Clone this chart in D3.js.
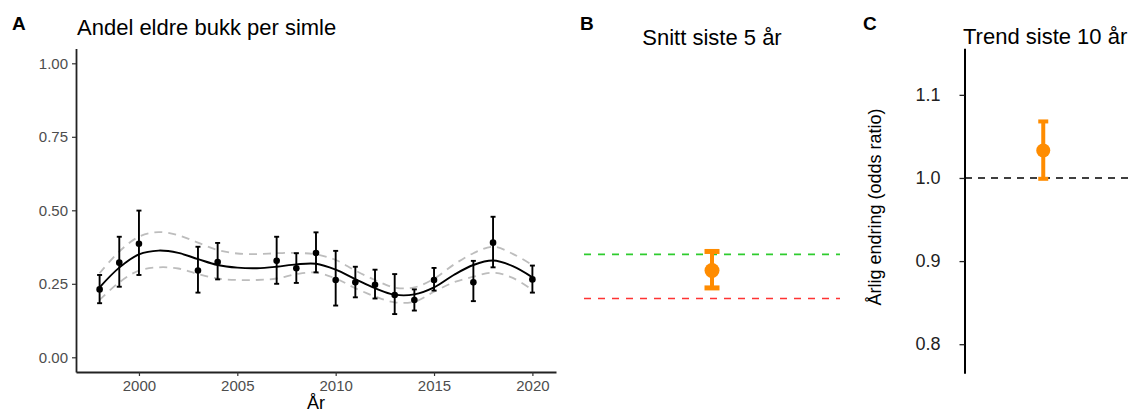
<!DOCTYPE html>
<html><head><meta charset="utf-8">
<script src="https://cdn.jsdelivr.net/npm/d3@7"></script>
<style>
html,body{margin:0;padding:0;background:#fff;}
svg{display:block;font-family:"Liberation Sans",Arial,Helvetica,sans-serif;}
</style></head>
<body><svg id="c" width="1129" height="414"></svg>
<script>
// ---- Panel A data ----
const years = [1998,1999,2000,2003,2004,2007,2008,2009,2010,2011,2012,2013,2014,2015,2017,2018,2020];
const est   = [0.231,0.322,0.386,0.295,0.324,0.328,0.303,0.355,0.263,0.255,0.247,0.212,0.195,0.263,0.255,0.390,0.265];
const lo    = [0.184,0.240,0.280,0.220,0.265,0.250,0.253,0.289,0.176,0.204,0.200,0.147,0.159,0.227,0.191,0.306,0.220];
const hi    = [0.280,0.410,0.499,0.376,0.389,0.410,0.354,0.425,0.362,0.308,0.298,0.283,0.231,0.304,0.328,0.478,0.312];
const fitYears = [1998,1999,2000,2001,2002,2003,2004,2005,2006,2007,2008,2009,2010,2011,2012,2013,2014,2015,2016,2017,2018,2019,2020];
const fit      = [0.238,0.305,0.350,0.363,0.355,0.334,0.314,0.305,0.303,0.308,0.316,0.318,0.298,0.266,0.235,0.213,0.214,0.238,0.280,0.314,0.329,0.310,0.272];
const fitHi    = [0.286,0.360,0.410,0.426,0.415,0.390,0.365,0.353,0.351,0.354,0.355,0.350,0.331,0.295,0.263,0.237,0.238,0.267,0.315,0.354,0.376,0.352,0.314];
const fitLo    = [0.195,0.255,0.295,0.306,0.302,0.283,0.268,0.263,0.263,0.268,0.283,0.288,0.268,0.235,0.207,0.187,0.189,0.223,0.255,0.274,0.288,0.270,0.229];
const yTicksA = [0, 0.25, 0.5, 0.75, 1.0];
const xTicksA = [2000, 2005, 2010, 2015, 2020];

// ---- Panel B data ----
const meanB = 0.295, loB = 0.236, hiB = 0.360;
const goodThreshold = 0.35, badThreshold = 0.20;

// ---- Panel C data ----
const trendC = 1.033, loC = 0.999, hiC = 1.068;
const refC = 1.0;
const yTicksC = [0.8, 0.9, 1.0, 1.1];

const svg = d3.select("#c");

// ================= Panel A =================
const xA = d3.scaleLinear().domain([1996.8, 2021.2]).range([76, 556]);
const yA = d3.scaleLinear().domain([-0.05, 1.05]).range([372, 48.6]);

const gA = svg.append("g");
const axL = gA.append("g").attr("transform","translate(76,0)")
  .call(d3.axisLeft(yA).tickValues(yTicksA).tickFormat(d3.format(".2f")).tickSize(4).tickSizeOuter(0).tickPadding(4));
const axB = gA.append("g").attr("transform","translate(0,372)")
  .call(d3.axisBottom(xA).tickValues(xTicksA).tickFormat(d3.format("d")).tickSize(4).tickSizeOuter(0).tickPadding(4));
[axL, axB].forEach(a=>{
  a.select(".domain").attr("stroke","#222").attr("stroke-width",1.8);
  a.selectAll(".tick line").attr("stroke","#333").attr("stroke-width",1.2);
  a.selectAll(".tick text").attr("fill","#4d4d4d").style("font-size","15px").style("font-family","Liberation Sans, Arial, sans-serif");
});

const fitData = fitYears.map((y,i)=>({x:y, f:fit[i], h:fitHi[i], l:fitLo[i]}));
const ln = k => d3.line().x(d=>xA(d.x)).y(d=>yA(d[k])).curve(d3.curveCatmullRom.alpha(0.5));
gA.append("path").datum(fitData).attr("d", ln("h")).attr("fill","none").attr("stroke","#bdbdbd").attr("stroke-width",1.8).attr("stroke-dasharray","8,6");
gA.append("path").datum(fitData).attr("d", ln("l")).attr("fill","none").attr("stroke","#bdbdbd").attr("stroke-width",1.8).attr("stroke-dasharray","8,6");
gA.append("path").datum(fitData).attr("d", ln("f")).attr("fill","none").attr("stroke","#000").attr("stroke-width",1.9);

const pts = years.map((y,i)=>({x:y, e:est[i], l:lo[i], h:hi[i]}));
const eb = gA.append("g").attr("stroke","#000").attr("stroke-width",1.9);
eb.selectAll(".v").data(pts).join("line").attr("x1",d=>xA(d.x)).attr("x2",d=>xA(d.x)).attr("y1",d=>yA(d.l)).attr("y2",d=>yA(d.h));
eb.selectAll(".t").data(pts).join("line").attr("x1",d=>xA(d.x)-2.5).attr("x2",d=>xA(d.x)+2.5).attr("y1",d=>yA(d.h)).attr("y2",d=>yA(d.h));
eb.selectAll(".b").data(pts).join("line").attr("x1",d=>xA(d.x)-2.5).attr("x2",d=>xA(d.x)+2.5).attr("y1",d=>yA(d.l)).attr("y2",d=>yA(d.l));
gA.selectAll("circle").data(pts).join("circle").attr("cx",d=>xA(d.x)).attr("cy",d=>yA(d.e)).attr("r",3.3).attr("fill","#000");

gA.append("text").attr("x",77).attr("y",35).text("Andel eldre bukk per simle").style("font-size","22px").attr("fill","#000");
gA.append("text").attr("x",316).attr("y",409).attr("text-anchor","middle").text("År").style("font-size","18px").attr("fill","#000");
svg.append("text").attr("x",12).attr("y",30).text("A").style("font-size","19px").style("font-weight","bold");

// ================= Panel B =================
const yB = yA; // same vertical scale as panel A
const xB = d3.scaleBand().domain(["snitt"]).range([584, 840]);
const cxB = xB("snitt") + xB.bandwidth()/2;
const gB = svg.append("g");
gB.append("line").attr("x1",584).attr("x2",840).attr("y1",yB(goodThreshold)).attr("y2",yB(goodThreshold))
  .attr("stroke","#2ecc2e").attr("stroke-width",1.6).attr("stroke-dasharray","7,7");
gB.append("line").attr("x1",584).attr("x2",840).attr("y1",yB(badThreshold)).attr("y2",yB(badThreshold))
  .attr("stroke","#ff3333").attr("stroke-width",1.6).attr("stroke-dasharray","7,7");
gB.append("line").attr("x1",cxB).attr("x2",cxB).attr("y1",yB(loB)).attr("y2",yB(hiB)).attr("stroke","#ff8c00").attr("stroke-width",4);
gB.append("line").attr("x1",cxB-7.5).attr("x2",cxB+7.5).attr("y1",yB(hiB)).attr("y2",yB(hiB)).attr("stroke","#ff8c00").attr("stroke-width",5);
gB.append("line").attr("x1",cxB-7.5).attr("x2",cxB+7.5).attr("y1",yB(loB)).attr("y2",yB(loB)).attr("stroke","#ff8c00").attr("stroke-width",5);
gB.append("circle").attr("cx",cxB).attr("cy",yB(meanB)).attr("r",7.5).attr("fill","#ff8c00");
gB.append("text").attr("x",cxB).attr("y",45).attr("text-anchor","middle").text("Snitt siste 5 år").style("font-size","22px");
svg.append("text").attr("x",580).attr("y",30).text("B").style("font-size","19px").style("font-weight","bold");

// ================= Panel C =================
const yC = d3.scaleLinear().domain([0.765, 1.156]).range([373.3, 48.3]);
const xC = d3.scaleBand().domain(["trend"]).range([964.5, 1122]);
const cxC = xC("trend") + xC.bandwidth()/2;
const gC = svg.append("g");
const axC = gC.append("g").attr("transform","translate(964.5,0)")
  .call(d3.axisLeft(yC).tickValues(yTicksC).tickFormat(d3.format(".1f")).tickSize(5).tickSizeOuter(0).tickPadding(19));
axC.select(".domain").attr("stroke","#000").attr("stroke-width",2);
axC.selectAll(".tick line").attr("stroke","#222").attr("stroke-width",1.3);
axC.selectAll(".tick text").attr("fill","#222").style("font-size","18px").style("font-family","Liberation Sans, Arial, sans-serif");
gC.append("line").attr("x1",965).attr("x2",1129).attr("y1",yC(refC)).attr("y2",yC(refC))
  .attr("stroke","#000").attr("stroke-width",1.5).attr("stroke-dasharray","7,6");
gC.append("line").attr("x1",cxC).attr("x2",cxC).attr("y1",yC(loC)).attr("y2",yC(hiC)).attr("stroke","#ff8c00").attr("stroke-width",4);
gC.append("line").attr("x1",cxC-5).attr("x2",cxC+5).attr("y1",yC(hiC)).attr("y2",yC(hiC)).attr("stroke","#ff8c00").attr("stroke-width",4);
gC.append("line").attr("x1",cxC-5).attr("x2",cxC+5).attr("y1",yC(loC)).attr("y2",yC(loC)).attr("stroke","#ff8c00").attr("stroke-width",4);
gC.append("circle").attr("cx",cxC).attr("cy",yC(trendC)).attr("r",7).attr("fill","#ff8c00");
gC.append("text").attr("transform","translate(881,207) rotate(-90)").attr("text-anchor","middle")
  .text("Årlig endring (odds ratio)").style("font-size","18px").attr("fill","#000");
gC.append("text").attr("x",963).attr("y",44).text("Trend siste 10 år").style("font-size","22px");
svg.append("text").attr("x",863).attr("y",30).text("C").style("font-size","19px").style("font-weight","bold");
</script>
</body></html>
